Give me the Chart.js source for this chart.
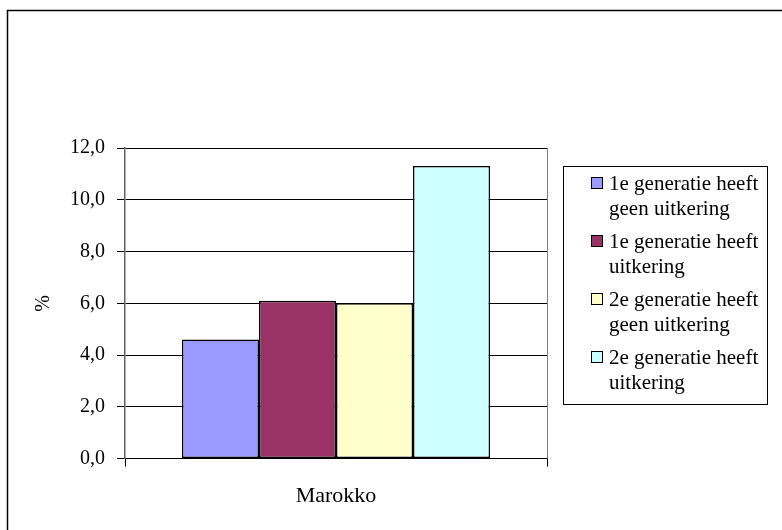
<!DOCTYPE html>
<html>
<head>
<meta charset="utf-8">
<script src="https://cdn.jsdelivr.net/npm/chart.js@4"></script>
<style>
  html, body { margin: 0; padding: 0; background: #fff; }
  canvas { display: block; }
</style>
</head>
<body>
<canvas id="myChart" width="782" height="530"></canvas>
<script>
// data
var categories = ["Marokko"];
var seriesNames = [
  ["1e generatie heeft", "geen uitkering"],
  ["1e generatie heeft", "uitkering"],
  ["2e generatie heeft", "geen uitkering"],
  ["2e generatie heeft", "uitkering"]
];
var seriesValues = [
  [4.6],
  [6.1],
  [6.0],
  [11.3]
];
var seriesColors = ["#9999FF", "#993366", "#FFFFCC", "#CCFFFF"];
var yTicks = [0, 2, 4, 6, 8, 10, 12];

var FONT = "'Liberation Serif', 'Times New Roman', serif";

// frame, plot border and the boxed legend
var decor = {
  id: "decor",
  beforeDraw: function (chart) {
    var c = chart.ctx;
    c.save();
    c.fillStyle = "#fff";
    c.fillRect(0, 0, chart.width, chart.height);
    c.strokeStyle = "#000";
    c.lineWidth = 1.5;
    c.strokeRect(7.5, 10.5, 900, 700);
    c.restore();
  },
  beforeDatasetsDraw: function (chart) {
    var a = chart.chartArea, c = chart.ctx;
    c.save();
    c.strokeStyle = "#808080";
    c.lineWidth = 1;
    c.beginPath();
    c.moveTo(Math.round(a.right) + 0.5, a.top);
    c.lineTo(Math.round(a.right) + 0.5, a.bottom);
    c.stroke();
    c.restore();
  },
  afterDraw: function (chart) {
    var c = chart.ctx;
    c.save();
    c.strokeStyle = "#000";
    c.lineWidth = 1;
    c.strokeRect(563.5, 166.5, 204, 238);
    c.font = "21px " + FONT;
    c.textBaseline = "alphabetic";
    c.textAlign = "left";
    chart.data.datasets.forEach(function (ds, i) {
      var base = 190 + i * 58;
      c.fillStyle = ds.backgroundColor;
      c.fillRect(591.5, base - 12.5, 11, 11);
      c.strokeStyle = "#000";
      c.strokeRect(591.5, base - 12.5, 11, 11);
      c.fillStyle = "#000";
      ds.label.forEach(function (line, j) {
        c.fillText(line, 609, base + j * 25);
      });
    });
    c.restore();
  }
};

var ctx = document.getElementById("myChart").getContext("2d");
var myChart = new Chart(ctx, {
  type: "bar",
  data: {
    labels: categories,
    datasets: seriesValues.map(function (vals, i) {
      return {
        label: seriesNames[i],
        data: vals,
        backgroundColor: seriesColors[i],
        borderColor: "#000",
        borderWidth: 1.5,
        borderSkipped: false,
        categoryPercentage: 0.73,
        barPercentage: 1.0
      };
    })
  },
  options: {
    responsive: false,
    animation: false,
    events: [],
    layout: { padding: { top: 148, right: 235, left: 20, bottom: 5 } },
    plugins: {
      legend: { display: false },
      tooltip: { enabled: false },
      title: { display: false }
    },
    scales: {
      x: {
        grid: {
          offset: true,
          drawOnChartArea: false,
          drawTicks: true,
          tickLength: 8,
          color: "#000"
        },
        border: { color: "#000", width: 1 },
        ticks: {
          color: "#000",
          padding: 16,
          font: { family: FONT, size: 22 }
        }
      },
      y: {
        min: 0,
        max: 12,
        afterBuildTicks: function (scale) {
          scale.ticks = yTicks.map(function (v) { return { value: v }; });
        },
        afterFit: function (scale) { scale.width = 105; },
        grid: {
          color: "#000",
          lineWidth: 1,
          tickLength: 8
        },
        border: { color: "#606060", width: 1.5 },
        ticks: {
          color: "#000",
          padding: 12,
          font: { family: FONT, size: 20 },
          callback: function (v) { return v.toFixed(1).replace(".", ","); }
        },
        title: {
          display: true,
          text: "%",
          color: "#000",
          padding: { top: 12, bottom: 0 },
          font: { family: FONT, size: 20 }
        }
      }
    }
  },
  plugins: [decor]
});
</script>
</body>
</html>
